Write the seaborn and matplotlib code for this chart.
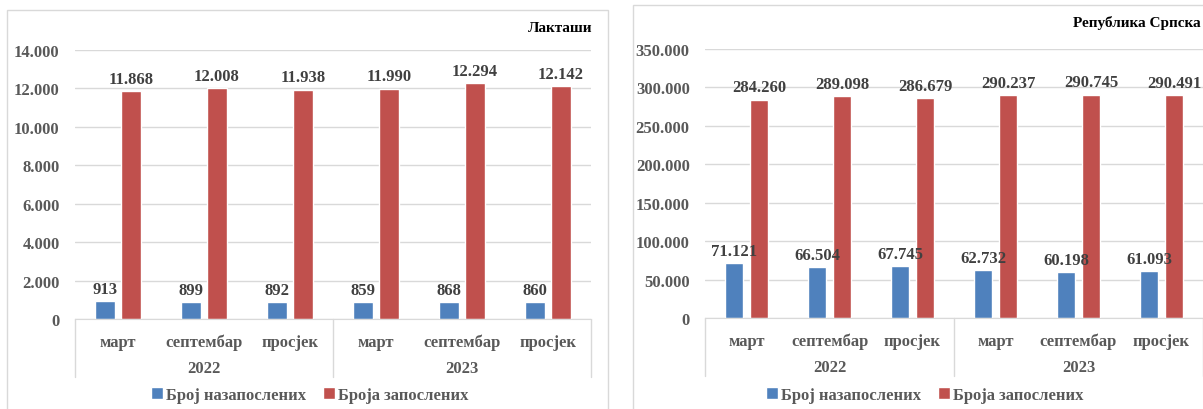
import pandas as pd
import matplotlib.pyplot as plt
import matplotlib.transforms as mtransforms
from matplotlib.patches import Rectangle, Patch
import seaborn as sns

# Data
months = ["март", "септембар", "просјек"]
years = ["2022", "2023"]
series = ["Број назапослених", "Броја запослених"]

lak_unemployed = [913, 899, 892, 859, 868, 860]
lak_employed = [11868, 12008, 11938, 11990, 12294, 12142]
rs_unemployed = [71121, 66504, 67745, 62732, 60198, 61093]
rs_employed = [284260, 289098, 286679, 290237, 290745, 290491]

lak_ticks = [0, 2000, 4000, 6000, 8000, 10000, 12000, 14000]
rs_ticks = [0, 50000, 100000, 150000, 200000, 250000, 300000, 350000]

BLUE = "#4F81BD"
RED = "#C0504D"
GRID = "#D9D9D9"
TXT = "#595959"
LBL = "#404040"

sns.set_style("white")
plt.rcParams["font.family"] = ["Liberation Serif", "DejaVu Serif"]
plt.rcParams["font.weight"] = "bold"

W, H = 1203, 410
fig = plt.figure(figsize=(W / 100, H / 100), dpi=100)

periods = [f"{y} {m}" for y in years for m in months]


def fmt(v):
    return f"{int(v):,}".replace(",", ".")


def make_df(unemp, emp):
    return pd.DataFrame({
        "period": periods * 2,
        "series": [series[0]] * 6 + [series[1]] * 6,
        "value": list(unemp) + list(emp),
    })


def panel(x0, x1, ytop, ybot, df, ticks):
    ax = fig.add_axes([x0 / W, 1 - ybot / H, (x1 - x0) / W, (ybot - ytop) / H])
    sns.barplot(data=df, x="period", y="value", hue="series", order=periods,
                hue_order=series, palette=[BLUE, RED], width=0.6, gap=0.25,
                saturation=1, ax=ax, legend=False, errorbar=None)
    ax.set_xlim(-0.5, 5.5)
    ax.set_ylim(ticks[0], ticks[-1])
    ax.set_yticks(ticks)
    ax.set_yticklabels([fmt(t) for t in ticks], fontsize=12, color=TXT,
                       fontweight="bold")
    ax.tick_params(axis="y", length=0, pad=11)
    ax.tick_params(axis="x", length=0)
    ax.set_xticks([])
    ax.set_xlabel("")
    ax.set_ylabel("")
    ax.grid(axis="y", color=GRID, linewidth=1)
    ax.set_axisbelow(True)
    for s in ["left", "right", "top"]:
        ax.spines[s].set_visible(False)
    ax.spines["bottom"].set_color(GRID)

    for cont in ax.containers:
        ax.bar_label(cont, labels=[fmt(v) for v in cont.datavalues],
                     padding=3, fontsize=12, color=LBL, fontweight="bold")

    # multi-level category axis
    h_ax = ybot - ytop
    trans = mtransforms.blended_transform_factory(ax.transData, ax.transAxes)
    for i, p in enumerate(periods):
        ax.text(i, -23 / h_ax, months[i % 3], transform=trans, ha="center",
                va="center", fontsize=12, color=TXT, fontweight="bold")
    for j, y in enumerate(years):
        ax.text(j * 3 + 1, -49 / h_ax, y, transform=trans, ha="center",
                va="center", fontsize=12, color=TXT, fontweight="bold")
    for xs in [-0.5, 2.5, 5.5]:
        ax.plot([xs, xs], [0, -58 / h_ax], transform=trans, color=GRID,
                linewidth=1, clip_on=False)
    return ax


panel(75, 591, 51, 320, make_df(lak_unemployed, lak_employed), lak_ticks)
panel(705, 1203, 50, 319, make_df(rs_unemployed, rs_employed), rs_ticks)

# panel frames
fig.add_artist(Rectangle((7 / W, -0.05), (608 - 7) / W, 1.05 - 11 / H,
                         transform=fig.transFigure, fill=False,
                         edgecolor=GRID, linewidth=1))
fig.add_artist(Rectangle((633 / W, -0.05), (1215 - 633) / W, 1.05 - 6 / H,
                         transform=fig.transFigure, fill=False,
                         edgecolor=GRID, linewidth=1))

fig.text(592 / W, 1 - 28 / H, "Лакташи", ha="right", va="center",
         fontsize=11, color="black", fontweight="bold")
fig.text(1201 / W, 1 - 23 / H, "Република Српска", ha="right", va="center",
         fontsize=11, color="black", fontweight="bold")

handles = [Patch(facecolor=BLUE), Patch(facecolor=RED)]
for cx in [310, 925]:
    fig.legend(handles, series, loc="center", bbox_to_anchor=(cx / W, 1 - 396 / H),
               ncol=2, frameon=False, fontsize=12, handlelength=0.7,
               handleheight=0.7, handletextpad=0.2, columnspacing=1.0,
               labelcolor=TXT, prop={"weight": "bold", "size": 12})

fig.savefig("out.png", dpi=100)
